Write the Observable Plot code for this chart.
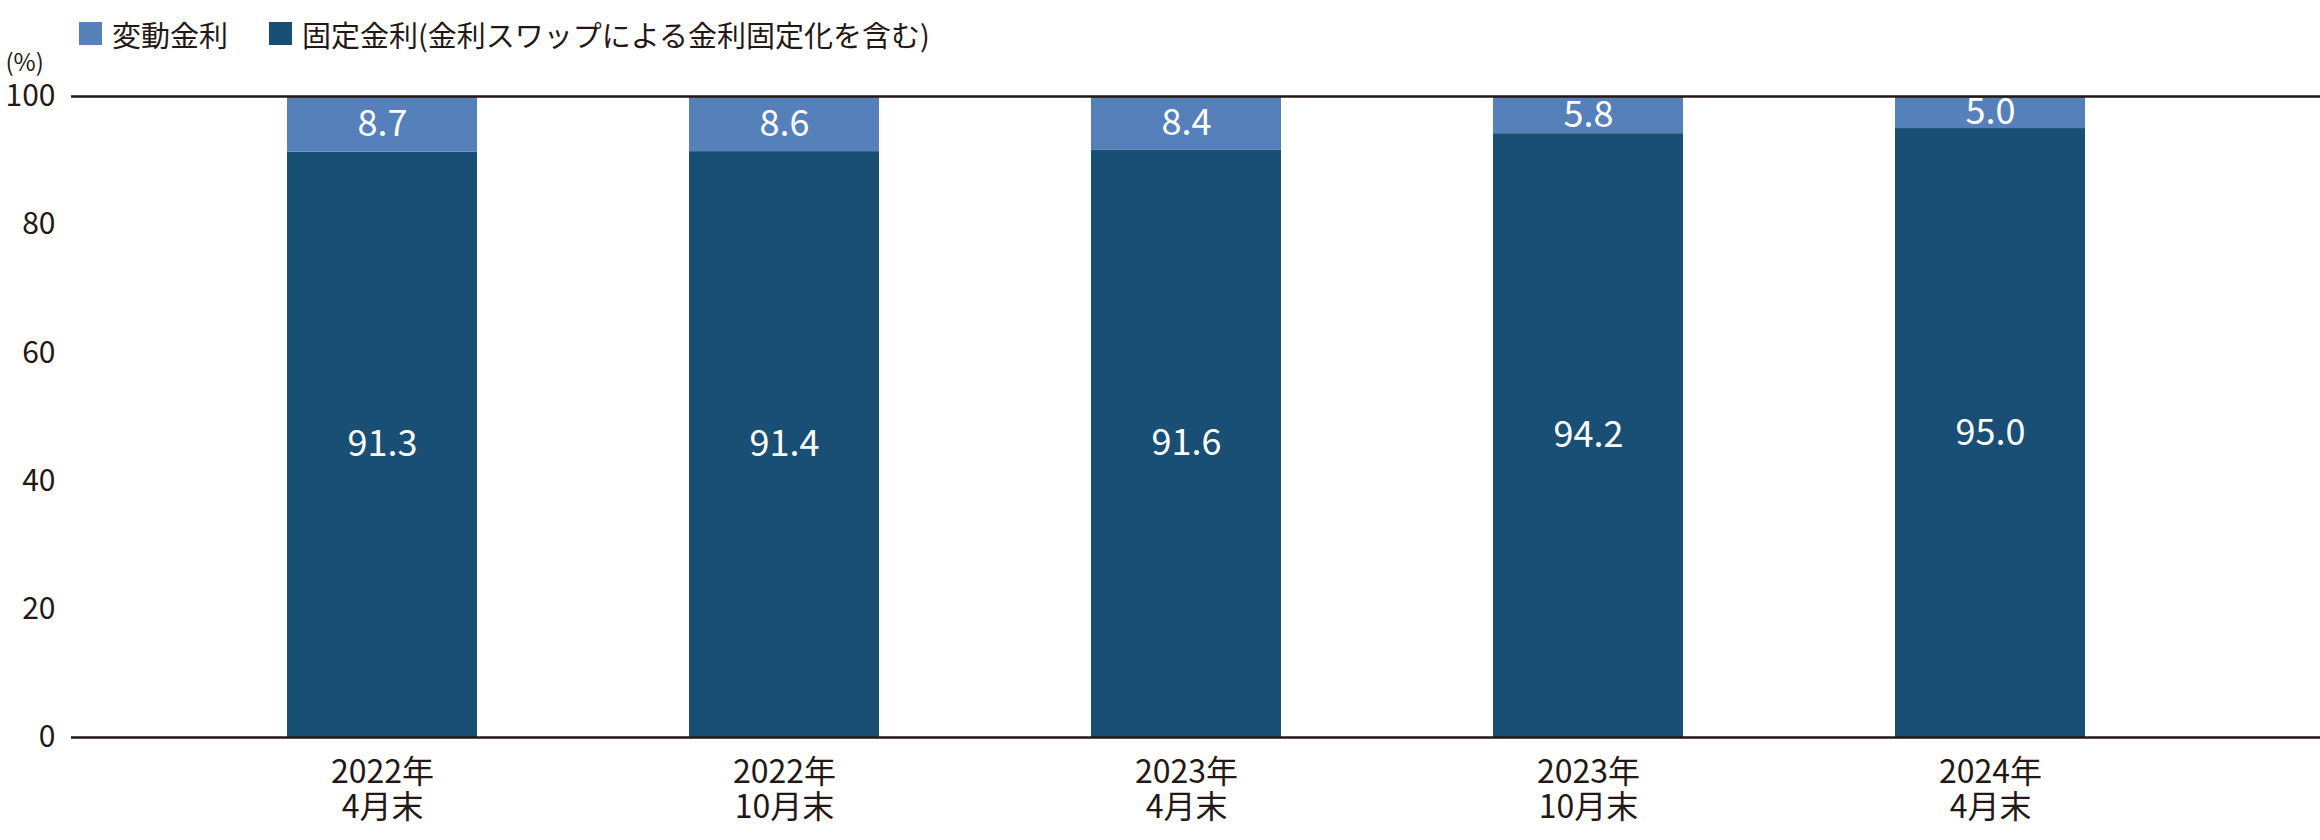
<!DOCTYPE html>
<html>
<head>
<meta charset="utf-8">
<script src="https://cdn.jsdelivr.net/npm/d3@7"></script>
<script src="https://cdn.jsdelivr.net/npm/@observablehq/plot@0.6"></script>
<style>
  body { margin: 0; background: #fff; font-family: "Noto Sans CJK JP", sans-serif; color: #231815; }
  #legend { height: 40px; display: flex; align-items: center; padding-left: 79px; padding-top: 27px; box-sizing: border-box; font-size: 29px; }
  .item { display: flex; align-items: center; margin-right: 41px; }
  .sw { width: 23px; height: 23px; margin-right: 10px; display: inline-block; }
</style>
</head>
<body>
<div id="legend"></div>
<div id="chart"></div>
<script>
const periods = ["2022年\n4月末", "2022年\n10月末", "2023年\n4月末", "2023年\n10月末", "2024年\n4月末"];
const seriesNames = ["固定金利(金利スワップによる金利固定化を含む)", "変動金利"];
const fixedRate = [91.3, 91.4, 91.6, 94.2, 95.0];
const floatingRate = [8.7, 8.6, 8.4, 5.8, 5.0];
const yTicks = [0, 20, 40, 60, 80, 100];
const colors = ["#1a4f75", "#5580b9"];
const legendOrder = ["変動金利", "固定金利(金利スワップによる金利固定化を含む)"];

const data = [];
periods.forEach((p, i) => data.push({period: p, series: seriesNames[0], value: fixedRate[i]}));
periods.forEach((p, i) => data.push({period: p, series: seriesNames[1], value: floatingRate[i]}));

const legend = document.getElementById("legend");
legendOrder.forEach(name => {
  const it = document.createElement("div");
  it.className = "item";
  const sw = document.createElement("span");
  sw.className = "sw";
  sw.style.background = colors[seriesNames.indexOf(name)];
  const t = document.createElement("span");
  t.textContent = name;
  it.appendChild(sw); it.appendChild(t);
  legend.appendChild(it);
});

const chart = Plot.plot({
  width: 2320,
  height: 800,
  marginLeft: 71,
  marginRight: 0,
  marginTop: 56,
  marginBottom: 103,
  style: {fontFamily: "'Noto Sans CJK JP', sans-serif", color: "#231815", background: "transparent", overflow: "visible"},
  x: {domain: periods, range: [180, 2191], paddingInner: 0.5276, paddingOuter: 0.2638, label: null},
  y: {domain: [0, 100], label: null},
  color: {domain: seriesNames, range: colors},
  marks: [
    Plot.barY(data, {x: "period", y: "value", fill: "series", order: seriesNames}),
    Plot.text(data, Plot.stackY({x: "period", y: "value", z: "series", order: seriesNames,
      text: d => d.value.toFixed(1), fill: "white", fontSize: 36})),
    Plot.ruleY([0, 100], {stroke: "#231815", strokeWidth: 2.5}),
    Plot.axisY(yTicks, {tickSize: 0, tickPadding: 16, fontSize: 30, label: null}),
    Plot.axisX({tickSize: 0, tickPadding: 21, fontSize: 32, lineHeight: 1.08, label: null}),
    Plot.text(["(%)"], {frameAnchor: "top-left", dx: -66, dy: -43, textAnchor: "start", fontSize: 24})
  ]
});
document.getElementById("chart").appendChild(chart);
</script>
</body>
</html>
